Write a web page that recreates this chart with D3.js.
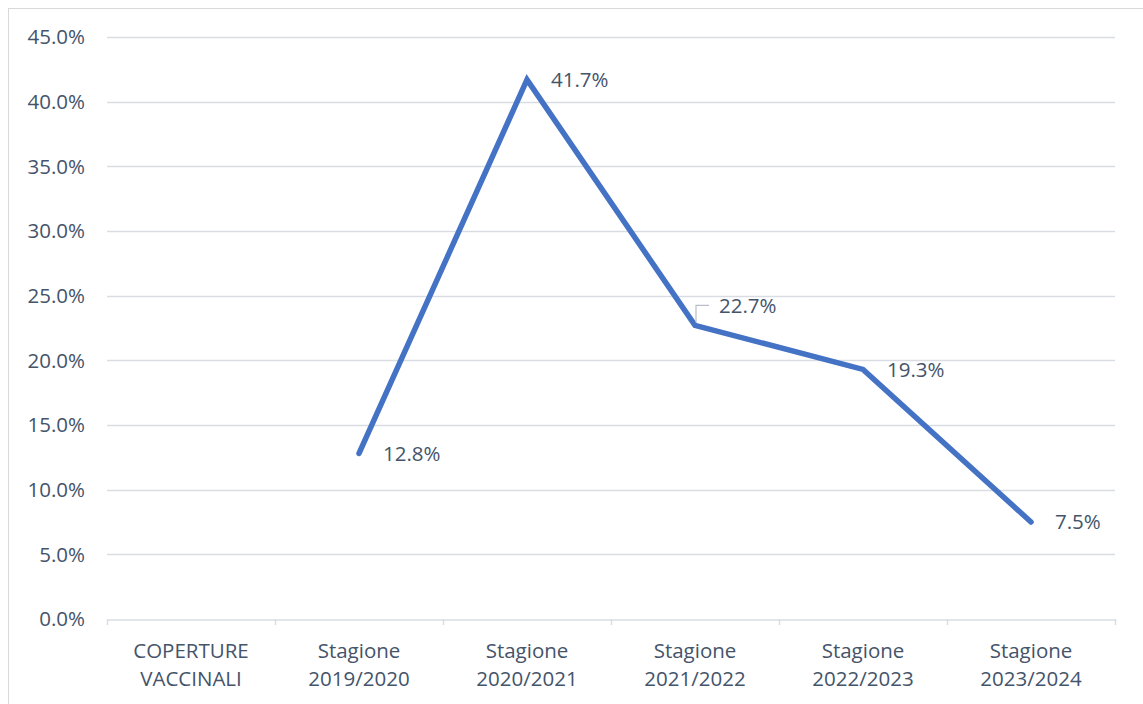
<!DOCTYPE html>
<html>
<head>
<meta charset="utf-8">
<script src="https://cdn.jsdelivr.net/npm/d3@7"></script>
<style>
  html, body { margin: 0; padding: 0; background: #fff; }
  svg { display: block; }
  text { font-family: "Open Sans", "Noto Sans", sans-serif; fill: #44546A; }
</style>
</head>
<body>
<svg id="chart" width="1143" height="704"></svg>
<script>
// Vaccination coverage by season
const categories = [
  ["COPERTURE", "VACCINALI"],
  ["Stagione", "2019/2020"],
  ["Stagione", "2020/2021"],
  ["Stagione", "2021/2022"],
  ["Stagione", "2022/2023"],
  ["Stagione", "2023/2024"]
];
const coverage = [null, 12.8, 41.7, 22.7, 19.3, 7.5];
const yTicks = [0, 5, 10, 15, 20, 25, 30, 35, 40, 45];

const svg = d3.select("#chart");
const W = 1143, H = 704;
const plot = { left: 107, right: 1115, top: 37, bottom: 619 };
const FS = "20.5px";

// outer chart frame
svg.append("rect")
  .attr("x", 8.5).attr("y", 8.5)
  .attr("width", W).attr("height", H)
  .attr("fill", "none").attr("stroke", "#d9d9d9").attr("stroke-width", 1);

const x = d3.scaleBand()
  .domain(d3.range(categories.length))
  .range([plot.left, plot.right]);

const y = d3.scaleLinear()
  .domain([0, 45])
  .range([plot.bottom, plot.top]);

// horizontal gridlines
svg.append("g")
  .selectAll("line")
  .data(yTicks.filter(d => d > 0))
  .join("line")
  .attr("x1", plot.left).attr("x2", plot.right)
  .attr("y1", d => Math.round(y(d)) + 0.5).attr("y2", d => Math.round(y(d)) + 0.5)
  .attr("stroke", "#d9dde3").attr("stroke-width", 1.5);

// y axis labels
svg.append("g")
  .selectAll("text")
  .data(yTicks)
  .join("text")
  .attr("x", 85)
  .attr("y", d => y(d))
  .attr("dy", "0.35em")
  .attr("text-anchor", "end")
  .style("font-size", FS)
  .text(d => d.toFixed(1) + "%");

// x axis baseline with category separators
const xAxis = d3.axisBottom(x)
  .tickSize(0)
  .tickFormat("");
const gx = svg.append("g")
  .attr("transform", `translate(0,${Math.round(plot.bottom) + 0.5})`)
  .call(xAxis);
gx.select(".domain").attr("stroke", "#d9dde3").attr("stroke-width", 1.5);
gx.selectAll(".tick").remove();

const bounds = d3.range(categories.length + 1).map(i =>
  i < categories.length ? x(i) : x(categories.length - 1) + x.bandwidth());
svg.append("g")
  .selectAll("line")
  .data(bounds)
  .join("line")
  .attr("x1", d => Math.round(d) + 0.5).attr("x2", d => Math.round(d) + 0.5)
  .attr("y1", plot.bottom).attr("y2", plot.bottom + 6)
  .attr("stroke", "#d9dde3").attr("stroke-width", 1.5);

// category labels (two lines)
const catG = svg.append("g")
  .selectAll("text")
  .data(categories)
  .join("text")
  .attr("text-anchor", "middle")
  .style("font-size", FS)
  .attr("transform", (d, i) => `translate(${x(i) + x.bandwidth() / 2},0)`);
catG.selectAll("tspan")
  .data(d => d)
  .join("tspan")
  .attr("x", 0)
  .attr("y", (d, i) => 658 + i * 28)
  .text(d => d);

// coverage line
const pts = coverage.map((v, i) => ({ i, v })).filter(d => d.v !== null);
const line = d3.line()
  .x(d => x(d.i) + x.bandwidth() / 2)
  .y(d => y(d.v));
svg.append("path")
  .datum(pts)
  .attr("d", line)
  .attr("fill", "none")
  .attr("stroke", "#4472C4")
  .attr("stroke-width", 5.5)
  .attr("stroke-linejoin", "miter")
  .attr("stroke-linecap", "round");

// value labels, the 2021/2022 one lifted with a leader line
const liftIdx = 3;
pts.forEach(d => {
  const cx = x(d.i) + x.bandwidth() / 2;
  const cy = y(d.v);
  const lift = d.i === liftIdx ? -20 : 0;
  if (lift) {
    svg.append("path")
      .attr("d", `M${cx + 1},${cy - 3} V${cy + lift} H${cx + 14}`)
      .attr("fill", "none")
      .attr("stroke", "#b8bec7")
      .attr("stroke-width", 1.2);
  }
  svg.append("text")
    .attr("x", cx + 24)
    .attr("y", cy + lift)
    .attr("dy", "0.35em")
    .style("font-size", FS)
    .text(d.v.toFixed(1) + "%");
});
</script>
</body>
</html>
